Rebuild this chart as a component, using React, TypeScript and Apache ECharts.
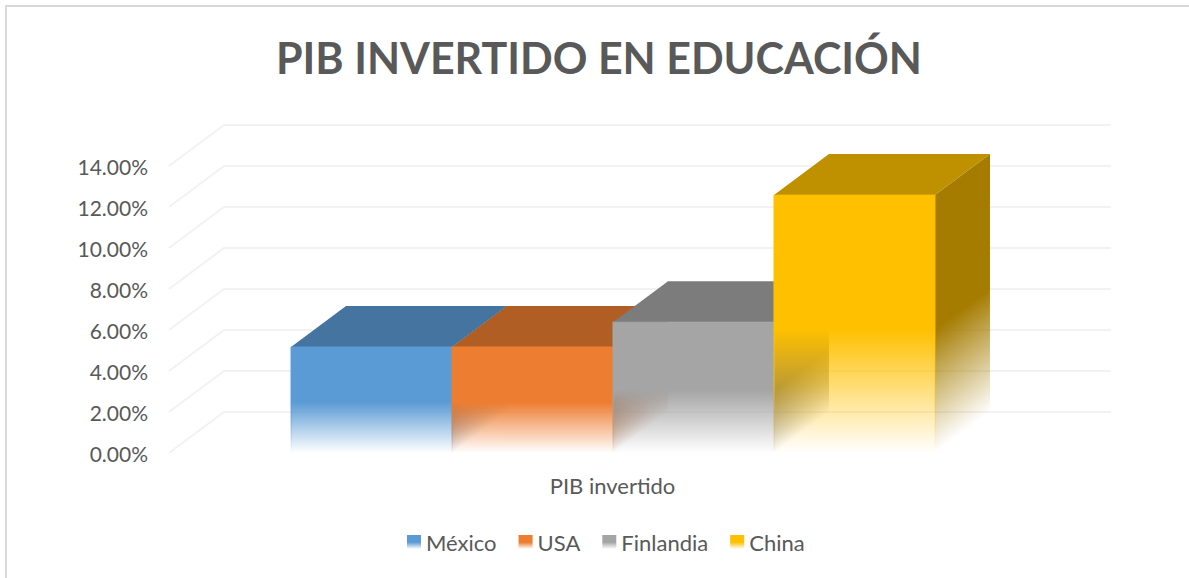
import React, { useEffect, useRef } from "react";
import * as echarts from "echarts";

const title = "PIB INVERTIDO EN EDUCACIÓN";
const categories = ["PIB invertido"];
const seriesNames = ["México", "USA", "Finlandia", "China"];
const seriesValues = [5.17, 5.17, 6.38, 12.58];
const tickValues = [0, 2, 4, 6, 8, 10, 12, 14];
const frontRgb = [[91, 155, 213], [237, 125, 49], [165, 165, 165], [255, 192, 0]];
const topColors = ["#44749f", "#b15e25", "#7c7c7c", "#bf9000"];
const sideRgb = [[62, 106, 146], [162, 85, 33], [113, 113, 113], [165, 124, 0]];

const DEPTH_X = 55;
const DEPTH_Y = 41;
const BAR_SHARE = 0.1815;
const SOLID_TO = 0.52;

const rgba = (c: number[], a: number) => `rgba(${c[0]},${c[1]},${c[2]},${a})`;
const fadeStops = (c: number[]) => [
  { offset: 0, color: rgba(c, 1) },
  { offset: SOLID_TO, color: rgba(c, 1) },
  { offset: 1, color: rgba(c, 0) },
];
const frontGradient = (c: number[]) => ({
  type: "linear", x: 0, y: 0, x2: 0, y2: 1, colorStops: fadeStops(c),
});

const barSeries = (name: string, value: number, i: number) => ({
  type: "custom",
  name,
  z: 3 + i,
  clip: false,
  data: [[0, value]],
  encode: { x: 0, y: 1 },
  itemStyle: { color: frontGradient(frontRgb[i]) },
  renderItem: (_p: any, api: any) => {
    const band = api.size([1, 0])[0];
    const w = band * BAR_SHARE;
    const top = api.coord([api.value(0), api.value(1)]);
    const base = api.coord([api.value(0), 0]);
    const x0 = top[0] + (i - 2) * w + 0.5;
    const x1 = x0 + w;
    const yt = top[1];
    const yb = base[1];
    const fade = (yb - yt) * (1 - SOLID_TO);
    const L = Math.hypot(DEPTH_X, DEPTH_Y);
    const dist = (fade * DEPTH_X) / L;
    const sideGradient = {
      type: "linear",
      global: true,
      x: x1,
      y: yb - fade,
      x2: x1 + (DEPTH_Y / L) * dist,
      y2: yb - fade + (DEPTH_X / L) * dist,
      colorStops: [
        { offset: 0, color: rgba(sideRgb[i], 1) },
        { offset: 1, color: rgba(sideRgb[i], 0) },
      ],
    };
    return {
      type: "group",
      children: [
        {
          type: "polygon",
          shape: { points: [[x1, yt], [x1 + DEPTH_X, yt - DEPTH_Y], [x1 + DEPTH_X, yb - DEPTH_Y], [x1, yb]] },
          style: { fill: sideGradient },
        },
        {
          type: "polygon",
          shape: { points: [[x0, yt], [x1, yt], [x1 + DEPTH_X, yt - DEPTH_Y], [x0 + DEPTH_X, yt - DEPTH_Y]] },
          style: { fill: topColors[i] },
        },
        {
          type: "rect",
          shape: { x: x0, y: yt, width: w, height: yb - yt },
          style: { fill: frontGradient(frontRgb[i]), stroke: frontGradient(frontRgb[i]), lineWidth: 1 },
        },
      ],
    };
  },
});

const wallSeries = {
  type: "custom",
  silent: true,
  z: 1,
  clip: false,
  legendHoverLink: false,
  data: tickValues.map((t) => [0, t]),
  encode: { x: 0, y: 1 },
  renderItem: (p: any, api: any) => {
    const band = api.size([1, 0])[0];
    const c = api.coord([api.value(0), api.value(1)]);
    const xl = c[0] - band / 2;
    const xr = c[0] + band / 2;
    return {
      type: "polyline",
      shape: { points: [[xl, c[1]], [xl + DEPTH_X, c[1] - DEPTH_Y], [xr + DEPTH_X, c[1] - DEPTH_Y]] },
      style: { fill: "none", stroke: "#f2f2f2", lineWidth: 2 },
    };
  },
};

export default function App() {
  const ref = useRef<HTMLDivElement>(null);
  useEffect(() => {
    const chart = echarts.init(ref.current!, null, { renderer: "svg" });
    chart.setOption({
      animation: false,
      backgroundColor: "#ffffff",
      title: {
        text: title,
        left: 271,
        top: 31,
        textStyle: { fontFamily: "Lato", fontWeight: "bold", fontSize: 43, color: "#595959" },
      },
      legend: {
        data: seriesNames,
        left: 402,
        top: 526,
        icon: "rect",
        itemWidth: 14,
        itemHeight: 14,
        itemGap: 22,
        textStyle: { fontFamily: "Lato", fontSize: 22, color: "#595959" },
      },
      grid: { left: 169, right: 133, top: 166, bottom: 125 },
      xAxis: {
        type: "category",
        data: categories,
        axisLine: { show: false },
        axisTick: { show: false },
        axisLabel: { margin: 21, fontFamily: "Lato", fontSize: 22, color: "#595959" },
      },
      yAxis: {
        type: "value",
        min: 0,
        max: 14,
        interval: 2,
        axisLine: { show: false },
        axisTick: { show: false },
        splitLine: { show: false },
        axisLabel: {
          margin: 21,
          fontFamily: "Lato",
          fontSize: 21,
          color: "#595959",
          formatter: (v: number) => `${v.toFixed(2)}%`,
        },
      },
      graphic: [
        {
          type: "polyline",
          silent: true,
          shape: { points: [[6, 578], [6, 6], [1189, 6]] },
          style: { fill: "none", stroke: "#d9d9d9", lineWidth: 2 },
        },
      ],
      series: [wallSeries, ...seriesNames.map((n, i) => barSeries(n, seriesValues[i], i))],
    });
    return () => chart.dispose();
  }, []);
  return <div ref={ref} style={{ position: "fixed", left: 0, top: 0, width: 1189, height: 578 }} />;
}
